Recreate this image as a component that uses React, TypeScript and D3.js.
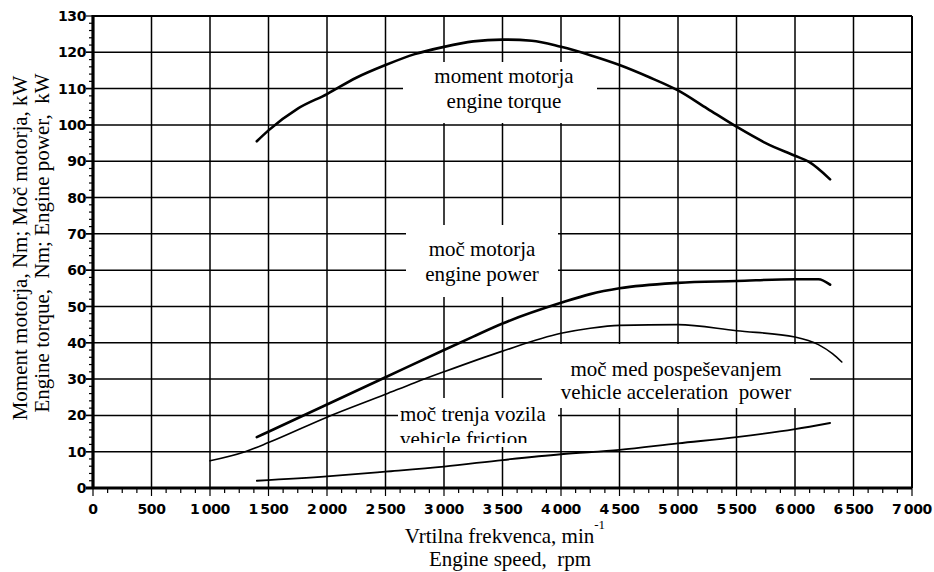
import React from "react";
import * as d3 from "d3";

// engine characteristics
const torqueRpm = [1400, 1500, 1750, 2000, 2250, 2500, 2750, 3000, 3250, 3500, 3750, 4000, 4250, 4500, 4750, 5000, 5250, 5500, 5750, 6000, 6120, 6300];
const torqueNm = [95.5, 98.5, 104.5, 108.5, 113, 116.5, 119.5, 121.5, 123, 123.5, 123.2, 121.5, 119.2, 116.5, 113.2, 109.5, 104.5, 99.5, 95, 91.5, 89.8, 85];

const powerRpm = [1400, 1500, 2000, 2500, 3000, 3250, 3500, 4000, 4250, 4500, 5000, 5500, 6000, 6200, 6300];
const powerKw = [14, 15.5, 23, 30.5, 38, 41.7, 45.3, 51, 53.4, 55, 56.5, 57, 57.5, 57.5, 56];

const accelRpm = [1000, 1300, 1500, 2000, 2500, 2750, 3000, 3500, 4000, 4250, 4500, 5000, 5500, 6000, 6200, 6320, 6400];
const accelKw = [7.5, 10, 12.5, 19.5, 25.8, 29, 32, 37.7, 42.6, 44, 44.8, 45, 43.3, 41.6, 39.5, 37, 34.7];

const frictionRpm = [1400, 2000, 2500, 3000, 3500, 4000, 4500, 5000, 5500, 6000, 6300];
const frictionKw = [2, 3.2, 4.5, 5.9, 7.7, 9.3, 10.5, 12.3, 14, 16.2, 17.9];

const xTicks = [0, 500, 1000, 1500, 2000, 2500, 3000, 3500, 4000, 4500, 5000, 5500, 6000, 6500, 7000];
const yTicks = [0, 10, 20, 30, 40, 50, 60, 70, 80, 90, 100, 110, 120, 130];

const W = 934;
const H = 572;
const serif = "'Liberation Serif', 'Times New Roman', serif";
const sans = "'DejaVu Sans', sans-serif";
const nb = "\u00A0";

const x = d3.scaleLinear().domain([0, 7000]).range([93, 912]);
const y = d3.scaleLinear().domain([0, 130]).range([488, 16]);

const fmt = (n: number) =>
  n >= 1000 ? `${Math.floor(n / 1000)}\u2009${String(n % 1000).padStart(3, "0")}` : String(n);

const pathFor = (xs: number[], ys: number[]) =>
  d3
    .line<number>()
    .x((d) => x(d))
    .y((_, i) => y(ys[i]))
    .curve(d3.curveMonotoneX)(xs) || "";

const Box: React.FC<{ x0: number; y0: number; x1: number; y1: number }> = ({ x0, y0, x1, y1 }) => (
  <rect x={x0} y={y0} width={x1 - x0} height={y1 - y0} fill="#fff" />
);

export default function App() {
  const minorX = d3.range(0, 7001, 125);
  const minorY = d3.range(0, 131, 2);

  return (
    <svg
      width={W}
      height={H}
      viewBox={`0 0 ${W} ${H}`}
      style={{ position: "absolute", left: 0, top: 0, background: "#fff" }}
    >
      <defs>
        <clipPath id="frictionClip">
          <rect x={396} y={398} width={170} height={45} />
        </clipPath>
      </defs>

      {/* grid */}
      <g stroke="#000" strokeWidth={1.5}>
        {xTicks.slice(1, -1).map((t) => (
          <line key={"gx" + t} x1={x(t)} x2={x(t)} y1={y(130)} y2={y(0)} />
        ))}
        {yTicks.slice(1, -1).map((t) => (
          <line key={"gy" + t} x1={x(0) - 7} x2={x(7000)} y1={y(t)} y2={y(t)} />
        ))}
      </g>

      {/* minor ticks */}
      <g stroke="#000" strokeWidth={1.2}>
        {minorX.map((t) => (
          <line key={"mx" + t} x1={x(t)} x2={x(t)} y1={y(0)} y2={y(0) + (t % 500 === 0 ? 8 : 5)} />
        ))}
        {minorY.map((t) => (
          <line key={"my" + t} x1={x(0) - (t % 10 === 0 ? 7 : 4)} x2={x(0)} y1={y(t)} y2={y(t)} />
        ))}
      </g>

      {/* frame */}
      <line x1={x(0)} x2={x(7000)} y1={y(130)} y2={y(130)} stroke="#000" strokeWidth={2} />
      <line x1={x(7000)} x2={x(7000)} y1={y(130)} y2={y(0)} stroke="#000" strokeWidth={2} />
      <line x1={x(0)} x2={x(0)} y1={y(130) - 1} y2={y(0) + 1} stroke="#000" strokeWidth={3.2} />
      <line x1={x(0) - 7} x2={x(7000)} y1={y(0)} y2={y(0)} stroke="#000" strokeWidth={3.2} />

      {/* label backgrounds */}
      <Box x0={403} y0={62} x1={597} y1={123} />
      <Box x0={406} y0={225} x1={558} y1={297} />
      <Box x0={542} y0={344} x1={810} y1={408} />
      <Box x0={398} y0={398} x1={558} y1={447} />

      {/* curves */}
      <g fill="none" stroke="#000" strokeLinejoin="round" strokeLinecap="round">
        <path d={pathFor(torqueRpm, torqueNm)} strokeWidth={2.6} />
        <path d={pathFor(powerRpm, powerKw)} strokeWidth={2.6} />
        <path d={pathFor(accelRpm, accelKw)} strokeWidth={1.6} />
        <path d={pathFor(frictionRpm, frictionKw)} strokeWidth={1.8} />
      </g>

      {/* curve labels */}
      <g fontFamily={serif} fontSize={21} fill="#000" textAnchor="middle">
        <text x={504} y={83}>moment motorja</text>
        <text x={504} y={108}>engine torque</text>
        <text x={482} y={256}>moč motorja</text>
        <text x={482} y={281}>engine power</text>
        <text x={676} y={376}>moč med pospeševanjem</text>
        <text x={676} y={399}>{`vehicle acceleration${nb} power`}</text>
      </g>
      <g fontFamily={serif} fontSize={21} fill="#000" clipPath="url(#frictionClip)">
        <text x={400} y={421}>moč trenja vozila</text>
        <text x={400} y={446}>vehicle friction</text>
      </g>

      {/* tick labels */}
      <g fontFamily={sans} fontSize={14} fontWeight="bold" fill="#000">
        {yTicks.map((t) => (
          <text key={"ty" + t} x={x(0) - 7} y={y(t)} dy="0.36em" textAnchor="end" letterSpacing={-0.4}>
            {t}
          </text>
        ))}
        {xTicks.map((t) => (
          <text key={"tx" + t} x={x(t)} y={514} textAnchor="middle" letterSpacing={-0.4}>
            {fmt(t)}
          </text>
        ))}
      </g>

      {/* axis titles */}
      <g fontFamily={serif} fontSize={21} fill="#000">
        <text x={505} y={543} textAnchor="middle">
          Vrtilna frekvenca, min
          <tspan fontSize={13} dy={-14}>-1</tspan>
        </text>
        <text x={510} y={566} textAnchor="middle">{`Engine speed,${nb} rpm`}</text>
        <text transform="translate(27,248) rotate(-90)" textAnchor="middle">
          Moment motorja, Nm; Moč motorja, kW
        </text>
        <text transform="translate(49,243) rotate(-90)" textAnchor="middle">
          {`Engine torque,${nb} Nm; Engine power,${nb} kW`}
        </text>
      </g>
    </svg>
  );
}
